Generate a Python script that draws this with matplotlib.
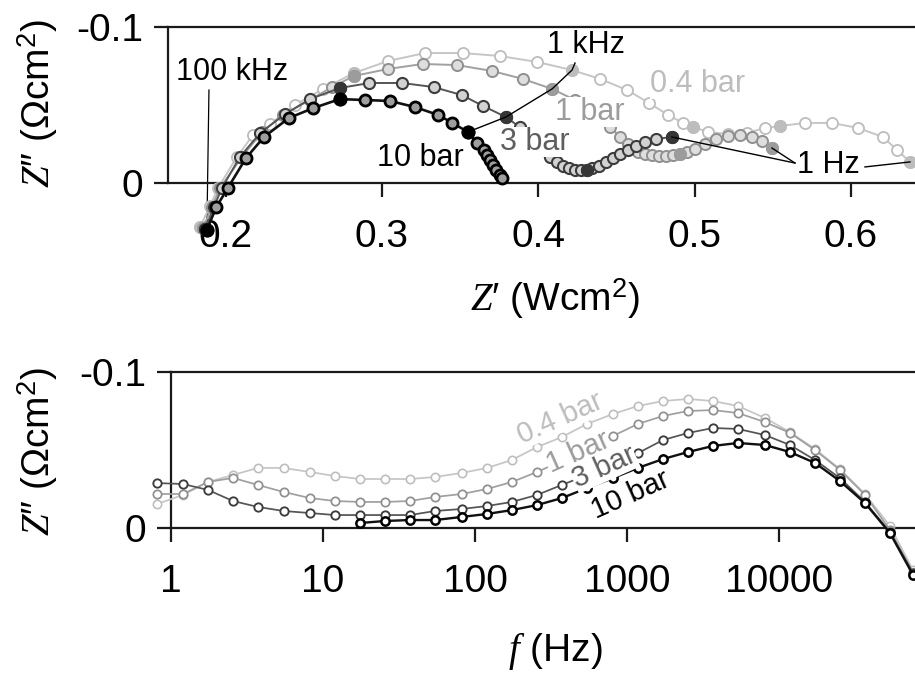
import numpy as np
import matplotlib
matplotlib.use("Agg")
import matplotlib.pyplot as plt

plt.rcParams['font.family'] = ['Liberation Sans', 'DejaVu Sans']
plt.rcParams['mathtext.fontset'] = 'custom'
plt.rcParams['mathtext.rm'] = 'Liberation Sans'
plt.rcParams['mathtext.it'] = 'Liberation Serif:italic'

pressures = ['0.4 bar', '1 bar', '3 bar', '10 bar']

# --- Nyquist data: Z' and -Z'' (ohm cm2), high to low frequency ---
nyq_zre_04 = [0.1836, 0.190, 0.1951, 0.2072, 0.2175, 0.2283, 0.2443, 0.2623, 0.2821, 0.3038,
              0.3275, 0.3518, 0.3755, 0.3992, 0.4216, 0.4395, 0.4568, 0.4708, 0.483, 0.4926,
              0.499, 0.5086, 0.5214, 0.5335, 0.545, 0.5546, 0.5706, 0.5879, 0.6045, 0.6205,
              0.6295, 0.6378]
nyq_zim_04 = [-0.0282, -0.0147, -0.0032, 0.0167, 0.0308, 0.0378, 0.050, 0.0603, 0.0705, 0.0782,
              0.0833, 0.0833, 0.0814, 0.0776, 0.0724, 0.0667, 0.0596, 0.0513, 0.0436, 0.0385,
              0.0359, 0.0327, 0.0314, 0.0321, 0.0353, 0.0365, 0.0385, 0.0385, 0.0353, 0.0295,
              0.0212, 0.0135]
nyq_zre_1 = [0.1855, 0.1912, 0.1964, 0.2104, 0.2232, 0.2367, 0.2539, 0.268, 0.2821, 0.3038,
             0.3262, 0.348, 0.3704, 0.3902, 0.4088, 0.4235, 0.4376, 0.4459, 0.4523, 0.4574,
             0.4638, 0.4683, 0.4727, 0.4772, 0.4817, 0.4862, 0.4907, 0.4951, 0.5003, 0.5067,
             0.5137, 0.5214, 0.529, 0.5367, 0.5431, 0.5495]
nyq_zim_1 = [-0.0288, -0.0154, -0.0032, 0.0167, 0.0327, 0.0436, 0.0532, 0.0615, 0.0686, 0.0731,
             0.0763, 0.0756, 0.0718, 0.0667, 0.0603, 0.0532, 0.0449, 0.0359, 0.0295, 0.025,
             0.0199, 0.0186, 0.0179, 0.0173, 0.0173, 0.0179, 0.0186, 0.0199, 0.0218, 0.025,
             0.0282, 0.0301, 0.0308, 0.0295, 0.0269, 0.0224]
nyq_zre_3 = [0.1868, 0.1925, 0.1976, 0.2091, 0.222, 0.238, 0.254, 0.273, 0.292, 0.313,
             0.333, 0.351, 0.3646, 0.3793, 0.388, 0.3966, 0.403, 0.4075, 0.412, 0.4158,
             0.4196, 0.4235, 0.4273, 0.4312, 0.4344, 0.4388, 0.4433, 0.4478, 0.4523, 0.4574,
             0.4625, 0.4683, 0.4753, 0.4855]
nyq_zim_3 = [-0.0295, -0.0154, -0.0032, 0.0167, 0.032, 0.0442, 0.0538, 0.0609, 0.0641, 0.0641,
             0.0615, 0.0564, 0.0494, 0.0423, 0.0359, 0.0282, 0.0212, 0.0167, 0.0135, 0.0109,
             0.0096, 0.0083, 0.0083, 0.0083, 0.0096, 0.0109, 0.0135, 0.016, 0.0186, 0.0212,
             0.0237, 0.0263, 0.0282, 0.0295]
nyq_zre_10 = [0.188, 0.194, 0.2015, 0.213, 0.2245, 0.2405, 0.256, 0.273, 0.289, 0.305,
              0.321, 0.336, 0.345, 0.355, 0.361, 0.365, 0.367, 0.369, 0.371, 0.373,
              0.3755, 0.377]
nyq_zim_10 = [-0.030, -0.0154, -0.003, 0.016, 0.0295, 0.0417, 0.048, 0.0538, 0.0532, 0.0526,
              0.0487, 0.0436, 0.0385, 0.0327, 0.0256, 0.0212, 0.018, 0.0147, 0.0115, 0.0083,
              0.0051, 0.0032]
# indices of the filled (decade) points and of the 1 kHz point
dec_04, dec_1, dec_3, dec_10 = [0, 8, 14, 20, 25, 31], [0, 8, 14, 26, 35], [0, 7, 13, 23, 33], [0, 7, 13]
khz_04, khz_1, khz_3, khz_10 = 14, 14, 13, 13

# --- Bode data: frequency (Hz) and -Z'' (ohm cm2) ---
freq = [0.81, 1.2, 1.75, 2.56, 3.73, 5.5, 8.2, 12.0, 17.5, 25.6, 37.3, 54.6, 82, 120, 175,
        256, 373, 546, 809, 1180, 1726, 2518, 3681, 5370, 8090, 11800, 17260, 25180, 36810,
        53700, 76200]
bode_04 = [0.0154, 0.0212, 0.0295, 0.034, 0.0385, 0.0385, 0.0359, 0.0333, 0.0314, 0.0314,
           0.0314, 0.0327, 0.0353, 0.0385, 0.0436, 0.0519, 0.0583, 0.0667, 0.0731, 0.0782,
           0.0814, 0.0827, 0.0814, 0.0782, 0.0705, 0.0615, 0.0506, 0.0378, 0.0218, 0.0013,
           -0.027]
bode_1 = [0.0218, 0.0218, 0.0295, 0.0321, 0.0276, 0.0231, 0.0192, 0.0173, 0.0167, 0.0167,
          0.0173, 0.0199, 0.0218, 0.025, 0.0295, 0.0359, 0.043, 0.051, 0.059, 0.0667,
          0.0718, 0.075, 0.0756, 0.0737, 0.0679, 0.061, 0.05, 0.0372, 0.0212, -0.0013,
          -0.0288]
bode_3 = [0.0288, 0.0282, 0.0244, 0.0173, 0.0135, 0.0109, 0.0096, 0.0083, 0.0083, 0.0083,
          0.0083, 0.0109, 0.0122, 0.0141, 0.0167, 0.0212, 0.0276, 0.034, 0.0404, 0.048,
          0.0564, 0.0609, 0.0641, 0.0635, 0.0596, 0.0532, 0.0436, 0.032, 0.0167, -0.0026,
          -0.0288]
bode_10 = [0.0032, 0.0045, 0.0051, 0.0051, 0.0071, 0.009, 0.0115, 0.0147, 0.0192, 0.0256,
           0.032, 0.0385, 0.0442, 0.0487, 0.0526, 0.0545, 0.0532, 0.0487, 0.0417, 0.0301,
           0.016, -0.0032, -0.0301]
bode_10_start = 8

styles = {
    '0.4 bar': dict(line='#c6c6c6', face='white', edge='#bdbdbd', fill='#bdbdbd', text='#bdbdbd', lw=1.4, mew=1.3),
    '1 bar': dict(line='#a0a0a0', face='#dedede', edge='#909090', fill='#9c9c9c', text='#9c9c9c', lw=1.4, mew=1.4),
    '3 bar': dict(line='#555555', face='#d2d2d2', edge='#3c3c3c', fill='#363636', text='#5e5e5e', lw=1.4, mew=1.5),
    '10 bar': dict(line='#111111', face='#9e9e9e', edge='#000000', fill='#000000', text='#000000', lw=1.9, mew=2.0),
}


def label(ax, x, y, s, color, size, rot=0):
    # white patch behind the text hides the curve under it, text drawn on top of all patches
    ax.text(x, y, s, fontsize=size, color='white', alpha=0.0, ha='center', va='center',
            rotation=rot, rotation_mode='anchor', zorder=7,
            bbox=dict(facecolor='white', edgecolor='none', pad=0.2))
    ax.text(x, y, s, fontsize=size, color=color, ha='center', va='center',
            rotation=rot, rotation_mode='anchor', zorder=12)


fig = plt.figure(figsize=(9.15, 6.73), dpi=100)
ax1 = fig.add_axes([168/915, 1 - 183/673, 1 - 168/915, 156/673])
ax2 = fig.add_axes([171/915, 1 - 528/673, 1 - 171/915, 156/673])

for ax in (ax1, ax2):
    ax.spines['right'].set_visible(False)
    for s in ['left', 'bottom', 'top']:
        ax.spines[s].set_linewidth(1.6)
        ax.spines[s].set_color('#1a1a1a')
    ax.set_ylim(0, 0.1)
    ax.set_yticks([0, 0.1])
    ax.set_yticklabels(['0', '-0.1'])
    ax.tick_params(axis='both', labelsize=28, length=10, width=1.6, direction='out', color='#1a1a1a')
    ax.tick_params(axis='y', pad=8)
    ax.tick_params(axis='x', pad=16)
    ax.minorticks_off()

# ---------- Nyquist ----------
nyq = {
    '0.4 bar': (nyq_zre_04, nyq_zim_04, dec_04, khz_04),
    '1 bar': (nyq_zre_1, nyq_zim_1, dec_1, khz_1),
    '3 bar': (nyq_zre_3, nyq_zim_3, dec_3, khz_3),
    '10 bar': (nyq_zre_10, nyq_zim_10, dec_10, khz_10),
}
for k, p in enumerate(pressures):
    zre, zim, dec, _ = nyq[p]
    st = styles[p]
    ax1.plot(zre, zim, '-o', color=st['line'], lw=st['lw'], ms=8, mfc=st['face'], mec=st['edge'],
             mew=st['mew'], clip_on=False, zorder=3 + k * 0.1)
    ax1.plot(np.array(zre)[dec], np.array(zim)[dec], 'o', ms=8, mfc=st['fill'], mec=st['fill'],
             mew=st['mew'], clip_on=False, zorder=3.05 + k * 0.1)

ax1.set_xlim(0.1631, 0.641)
ax1.set_xticks([0.2, 0.3, 0.4, 0.5, 0.6])
ax1.set_xticklabels(['0.2', '0.3', '0.4', '0.5', '0.6'])

# frequency annotations
ax1.text(0.204, 0.0712, '100 kHz', fontsize=22, ha='center', va='center', zorder=12)
ax1.plot([0.1893, 0.188], [0.0596, -0.028], color='k', lw=0.9, clip_on=False, zorder=2)

kx = [0.4235] + [nyq[p][0][nyq[p][3]] for p in pressures]
ky = [0.0769] + [nyq[p][1][nyq[p][3]] for p in pressures]
ax1.plot(kx, ky, color='k', lw=1.0, zorder=9)
ax1.text(0.4305, 0.0885, '1 kHz', fontsize=22, ha='center', va='center', zorder=12)

ax1.text(0.5853, 0.0115, '1 Hz', fontsize=22, ha='center', va='center', zorder=12)
for p in ['3 bar', '1 bar']:
    ax1.plot([0.5642, nyq[p][0][-1]], [0.0128, nyq[p][1][-1]], color='k', lw=1.0, zorder=9)
ax1.plot([0.609, nyq['0.4 bar'][0][-1]], [0.0103, nyq['0.4 bar'][1][-1]], color='k', lw=1.0,
         zorder=9, clip_on=False)

nyq_lab = {'0.4 bar': (0.5022, 0.0635), '1 bar': (0.4331, 0.0455),
           '3 bar': (0.3979, 0.0263), '10 bar': (0.3243, 0.016)}
for p in pressures:
    x, y = nyq_lab[p]
    label(ax1, x, y, p, styles[p]['text'], 22)

# ---------- Bode ----------
bode = {'0.4 bar': (freq, bode_04), '1 bar': (freq, bode_1), '3 bar': (freq, bode_3),
        '10 bar': (freq[bode_10_start:], bode_10)}
for k, p in enumerate(pressures):
    f, z = bode[p]
    st = styles[p]
    ax2.plot(f, z, '-o', color=st['line'], lw=st['lw'] * 0.9, ms=6, mfc='white', mec=st['edge'],
             mew=st['mew'] * 0.9, clip_on=False, zorder=3 + k * 0.1)

ax2.set_xscale('log')
ax2.set_xlim(1, 78500)
ax2.set_xticks([1, 10, 100, 1000, 10000])
ax2.set_xticklabels(['1', '10', '100', '1000', '10000'])
ax2.minorticks_off()

bode_lab = {'0.4 bar': (362, 0.0705), '1 bar': (476, 0.0487),
            '3 bar': (706, 0.0391), '10 bar': (1047, 0.0212)}
for p in pressures:
    x, y = bode_lab[p]
    label(ax2, x, y, p, styles[p]['text'], 21, rot=24)

# axis labels
ylab = "$Z$\u2033 (\u03a9cm$^2$)"
fig.text(38/915, 1 - 104/673, ylab, fontsize=28, rotation=90, ha='center', va='center')
fig.text(38/915, 1 - 452/673, ylab, fontsize=28, rotation=90, ha='center', va='center')
fig.text(555/915, 1 - 299/673, "$Z$\u2032 (Wcm$^2$)", fontsize=28, ha='center', va='center')
fig.text(555/915, 1 - 652/673, r"$f$ (Hz)", fontsize=28, ha='center', va='center')

fig.savefig('out.png', dpi=100)
